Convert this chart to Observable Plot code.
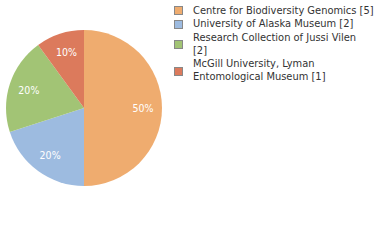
<!DOCTYPE html>
<html>
<head>
<meta charset="utf-8">
<script src="https://cdn.jsdelivr.net/npm/d3@7"></script>
<script src="https://cdn.jsdelivr.net/npm/@observablehq/plot@0.6"></script>
<style>
  html, body { margin: 0; padding: 0; background: #fff; }
  #wrap { position: relative; width: 380px; height: 240px; font-family: "DejaVu Sans Condensed", "DejaVu Sans", sans-serif; }
  #legend { position: absolute; left: 174px; top: 4.5px; font-size: 11px; color: #333; white-space: nowrap; }
  .row { display: flex; align-items: center; margin-bottom: 1px; }
  .sw { width: 7px; height: 7px; border: 1px solid #888; margin-right: 10px; flex: none; }
  .lab { line-height: 12.7px; }
</style>
</head>
<body>
<div id="wrap"></div>
<script>
const categories = ["Centre for Biodiversity Genomics [5]", "University of Alaska Museum [2]", "Research Collection of Jussi Vilen [2]", "McGill University, Lyman Entomological Museum [1]"];
const legendLines = [["Centre for Biodiversity Genomics [5]"], ["University of Alaska Museum [2]"], ["Research Collection of Jussi Vilen", "[2]"], ["McGill University, Lyman", "Entomological Museum [1]"]];
const counts = [5, 2, 2, 1];
const percentLabels = ["50%", "20%", "20%", "10%"];
const colors = ["#efac6f", "#9dbbe0", "#a2c475", "#dc7a5c"];

const arcs = d3.pie().sort(null).value(d => d)(counts);
const slices = arcs.map((a, i) => ({
  name: categories[i], label: percentLabels[i], color: colors[i],
  start: a.startAngle, end: a.endAngle, mid: (a.startAngle + a.endAngle) / 2
}));

const pieMark = (index, scales, values, dimensions, context) => {
  const sx = scales.x, sy = scales.y;
  const cx = sx(0), cy = sy(0);
  const r = Math.abs(sx(1) - sx(0));
  const arc = d3.arc().innerRadius(0).outerRadius(r);
  const g = d3.create("svg:g").attr("transform", `translate(${cx},${cy})`);
  g.selectAll("path").data(slices).join("path")
    .attr("d", d => arc({startAngle: d.start, endAngle: d.end}))
    .attr("fill", d => d.color);
  return g.node();
};

const lr = 0.75;
const chart = Plot.plot({
  width: 380, height: 240,
  margin: 0,
  x: {domain: [-1, 1], range: [6, 162], axis: null},
  y: {domain: [-1, 1], range: [186, 30], axis: null},
  style: {fontFamily: "DejaVu Sans Condensed, DejaVu Sans, sans-serif"},
  marks: [
    pieMark,
    Plot.text(slices, {
      x: d => lr * Math.sin(d.mid),
      y: d => lr * Math.cos(d.mid),
      text: d => d.label,
      fill: "white", fontSize: 10.5
    })
  ]
});
const wrap = document.getElementById("wrap");
wrap.appendChild(chart);

const legend = document.createElement("div");
legend.id = "legend";
slices.forEach((s, i) => {
  const row = document.createElement("div");
  row.className = "row";
  const sw = document.createElement("div");
  sw.className = "sw";
  sw.style.background = s.color;
  const lab = document.createElement("div");
  lab.className = "lab";
  lab.innerHTML = legendLines[i].join("<br>");
  row.appendChild(sw); row.appendChild(lab);
  legend.appendChild(row);
});
wrap.appendChild(legend);
</script>
</body>
</html>
